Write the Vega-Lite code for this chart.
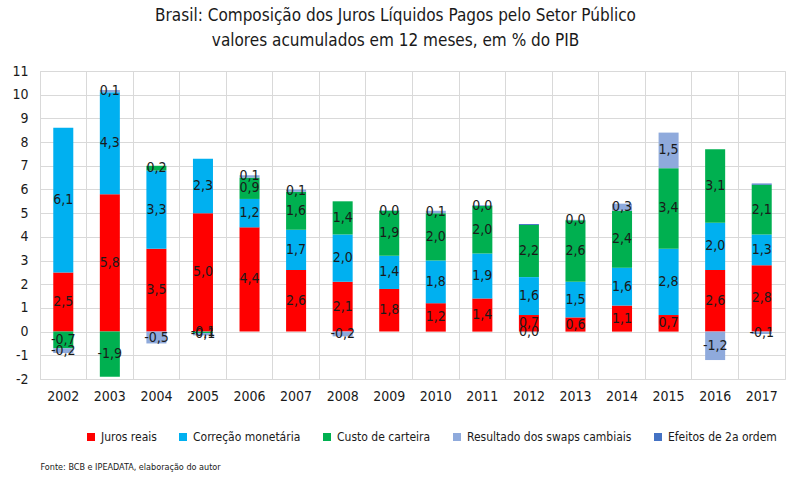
{
  "$schema": "https://vega.github.io/schema/vega-lite/v6.json",
  "autosize": {"type": "none"},
  "width": 745,
  "height": 308,
  "padding": {"left": 40, "top": 71, "right": 6, "bottom": 104},
  "background": "white",
  "title": {
    "text": ["Brasil: Composição dos Juros Líquidos Pagos pelo Setor Público", "valores acumulados em 12 meses, em % do PIB"],
    "fontSize": 17,
    "fontWeight": "normal",
    "color": "#1a1a1a",
    "lineHeight": 25,
    "offset": 14,
    "dx": -17,
    "anchor": "middle"
  },
  "data": {
    "values": [
      {"ano": "2002", "serie": "Juros reais", "ordem": 1, "valor": 2.5},
      {"ano": "2002", "serie": "Correção monetária", "ordem": 2, "valor": 6.1},
      {"ano": "2002", "serie": "Custo de carteira", "ordem": 3, "valor": -0.7},
      {"ano": "2002", "serie": "Resultado dos swaps cambiais", "ordem": 4, "valor": -0.2},
      {"ano": "2003", "serie": "Juros reais", "ordem": 1, "valor": 5.8},
      {"ano": "2003", "serie": "Correção monetária", "ordem": 2, "valor": 4.3},
      {"ano": "2003", "serie": "Custo de carteira", "ordem": 3, "valor": -1.9},
      {"ano": "2003", "serie": "Resultado dos swaps cambiais", "ordem": 4, "valor": 0.1},
      {"ano": "2004", "serie": "Juros reais", "ordem": 1, "valor": 3.5},
      {"ano": "2004", "serie": "Correção monetária", "ordem": 2, "valor": 3.3},
      {"ano": "2004", "serie": "Custo de carteira", "ordem": 3, "valor": 0.2},
      {"ano": "2004", "serie": "Resultado dos swaps cambiais", "ordem": 4, "valor": -0.5},
      {"ano": "2005", "serie": "Juros reais", "ordem": 1, "valor": 5.0},
      {"ano": "2005", "serie": "Correção monetária", "ordem": 2, "valor": 2.3},
      {"ano": "2005", "serie": "Custo de carteira", "ordem": 3, "valor": -0.06},
      {"ano": "2005", "serie": "Resultado dos swaps cambiais", "ordem": 4, "valor": -0.1},
      {"ano": "2006", "serie": "Juros reais", "ordem": 1, "valor": 4.4},
      {"ano": "2006", "serie": "Correção monetária", "ordem": 2, "valor": 1.2},
      {"ano": "2006", "serie": "Custo de carteira", "ordem": 3, "valor": 0.9},
      {"ano": "2006", "serie": "Resultado dos swaps cambiais", "ordem": 4, "valor": 0.1},
      {"ano": "2007", "serie": "Juros reais", "ordem": 1, "valor": 2.6},
      {"ano": "2007", "serie": "Correção monetária", "ordem": 2, "valor": 1.7},
      {"ano": "2007", "serie": "Custo de carteira", "ordem": 3, "valor": 1.6},
      {"ano": "2007", "serie": "Resultado dos swaps cambiais", "ordem": 4, "valor": 0.1},
      {"ano": "2008", "serie": "Juros reais", "ordem": 1, "valor": 2.1},
      {"ano": "2008", "serie": "Correção monetária", "ordem": 2, "valor": 2.0},
      {"ano": "2008", "serie": "Custo de carteira", "ordem": 3, "valor": 1.4},
      {"ano": "2008", "serie": "Resultado dos swaps cambiais", "ordem": 4, "valor": -0.2},
      {"ano": "2009", "serie": "Juros reais", "ordem": 1, "valor": 1.8},
      {"ano": "2009", "serie": "Correção monetária", "ordem": 2, "valor": 1.4},
      {"ano": "2009", "serie": "Custo de carteira", "ordem": 3, "valor": 1.9},
      {"ano": "2009", "serie": "Resultado dos swaps cambiais", "ordem": 4, "valor": 0.02},
      {"ano": "2010", "serie": "Juros reais", "ordem": 1, "valor": 1.2},
      {"ano": "2010", "serie": "Correção monetária", "ordem": 2, "valor": 1.8},
      {"ano": "2010", "serie": "Custo de carteira", "ordem": 3, "valor": 2.0},
      {"ano": "2010", "serie": "Resultado dos swaps cambiais", "ordem": 4, "valor": 0.1},
      {"ano": "2011", "serie": "Juros reais", "ordem": 1, "valor": 1.4},
      {"ano": "2011", "serie": "Correção monetária", "ordem": 2, "valor": 1.9},
      {"ano": "2011", "serie": "Custo de carteira", "ordem": 3, "valor": 2.0},
      {"ano": "2011", "serie": "Resultado dos swaps cambiais", "ordem": 4, "valor": 0.04},
      {"ano": "2012", "serie": "Juros reais", "ordem": 1, "valor": 0.7},
      {"ano": "2012", "serie": "Correção monetária", "ordem": 2, "valor": 1.6},
      {"ano": "2012", "serie": "Custo de carteira", "ordem": 3, "valor": 2.2},
      {"ano": "2012", "serie": "Resultado dos swaps cambiais", "ordem": 4, "valor": -0.01},
      {"ano": "2012", "serie": "Efeitos de 2a ordem", "ordem": 5, "valor": 0.04},
      {"ano": "2013", "serie": "Juros reais", "ordem": 1, "valor": 0.6},
      {"ano": "2013", "serie": "Correção monetária", "ordem": 2, "valor": 1.5},
      {"ano": "2013", "serie": "Custo de carteira", "ordem": 3, "valor": 2.6},
      {"ano": "2013", "serie": "Resultado dos swaps cambiais", "ordem": 4, "valor": 0.02},
      {"ano": "2014", "serie": "Juros reais", "ordem": 1, "valor": 1.1},
      {"ano": "2014", "serie": "Correção monetária", "ordem": 2, "valor": 1.6},
      {"ano": "2014", "serie": "Custo de carteira", "ordem": 3, "valor": 2.4},
      {"ano": "2014", "serie": "Resultado dos swaps cambiais", "ordem": 4, "valor": 0.3},
      {"ano": "2015", "serie": "Juros reais", "ordem": 1, "valor": 0.7},
      {"ano": "2015", "serie": "Correção monetária", "ordem": 2, "valor": 2.8},
      {"ano": "2015", "serie": "Custo de carteira", "ordem": 3, "valor": 3.4},
      {"ano": "2015", "serie": "Resultado dos swaps cambiais", "ordem": 4, "valor": 1.5},
      {"ano": "2016", "serie": "Juros reais", "ordem": 1, "valor": 2.6},
      {"ano": "2016", "serie": "Correção monetária", "ordem": 2, "valor": 2.0},
      {"ano": "2016", "serie": "Custo de carteira", "ordem": 3, "valor": 3.1},
      {"ano": "2016", "serie": "Resultado dos swaps cambiais", "ordem": 4, "valor": -1.2},
      {"ano": "2017", "serie": "Juros reais", "ordem": 1, "valor": 2.8},
      {"ano": "2017", "serie": "Correção monetária", "ordem": 2, "valor": 1.3},
      {"ano": "2017", "serie": "Custo de carteira", "ordem": 3, "valor": 2.1},
      {"ano": "2017", "serie": "Resultado dos swaps cambiais", "ordem": 4, "valor": -0.1},
      {"ano": "2017", "serie": "Efeitos de 2a ordem", "ordem": 5, "valor": 0.05}
    ]
  },
  "transform": [
    {
      "stack": "valor",
      "groupby": ["ano"],
      "sort": [{"field": "ordem", "order": "ascending"}],
      "as": ["v0", "v1"]
    },
    {"calculate": "(datum.v0 + datum.v1) / 2", "as": "meio"}
  ],
  "encoding": {
    "x": {
      "field": "ano",
      "type": "ordinal",
      "scale": {"paddingInner": 0, "paddingOuter": 0},
      "axis": {
        "title": "Fonte: BCB e IPEADATA, elaboração do autor",
        "titleFontSize": 9,
        "titleFontWeight": "normal",
        "titleAnchor": "start",
        "titleAlign": "left",
        "titleX": 0,
        "titleY": 90,
        "titleBaseline": "alphabetic",
        "labelAngle": 0,
        "labelPadding": 10,
        "labelFontSize": 14,
        "grid": true,
        "bandPosition": 0,
        "ticks": false,
        "domain": false
      }
    }
  },
  "layer": [
    {
      "mark": {"type": "bar", "width": {"band": 0.43}},
      "encoding": {
        "y": {
          "field": "v0",
          "type": "quantitative",
          "scale": {"domain": [-2, 11], "nice": false}
        },
        "y2": {"field": "v1"},
        "color": {
          "field": "serie",
          "type": "nominal",
          "scale": {
            "domain": ["Juros reais", "Correção monetária", "Custo de carteira", "Resultado dos swaps cambiais", "Efeitos de 2a ordem"],
            "range": ["#ff0000", "#00b0f0", "#00b050", "#8faadc", "#4472c4"]
          },
          "legend": {
            "title": null,
            "orient": "none",
            "direction": "horizontal",
            "legendX": 45,
            "legendY": 360,
            "symbolType": "square",
            "symbolSize": 64,
            "symbolStrokeWidth": 0,
            "labelFontSize": 12,
            "labelLimit": 300,
            "columnPadding": 20
          }
        }
      }
    },
    {
      "mark": {"type": "rule", "color": "black", "strokeWidth": 1.5},
      "encoding": {"y": {"datum": 0}}
    },
    {
      "transform": [{"filter": "datum.ordem < 5"}],
      "mark": {"type": "text", "fontSize": 14, "color": "#1a1a1a"},
      "encoding": {
        "y": {"field": "meio", "type": "quantitative"},
        "text": {"field": "valor", "type": "quantitative", "format": ".1f"}
      }
    }
  ],
  "config": {
    "font": "DejaVu Sans Condensed, sans-serif",
    "locale": {
      "number": {"decimal": ",", "thousands": ".", "grouping": [3], "currency": ["R$", ""], "minus": "-"}
    },
    "axis": {"gridColor": "#d9d9d9", "labelColor": "#1a1a1a", "titleColor": "#1a1a1a"},
    "axisY": {
      "title": null,
      "values": [-2, -1, 0, 1, 2, 3, 4, 5, 6, 7, 8, 9, 10, 11],
      "tickCount": 14,
      "labelOverlap": false,
      "labelPadding": 12,
      "labelFontSize": 14,
      "ticks": false,
      "domain": false
    },
    "legend": {"labelColor": "#1a1a1a"},
    "view": {"stroke": "#d9d9d9"}
  }
}
